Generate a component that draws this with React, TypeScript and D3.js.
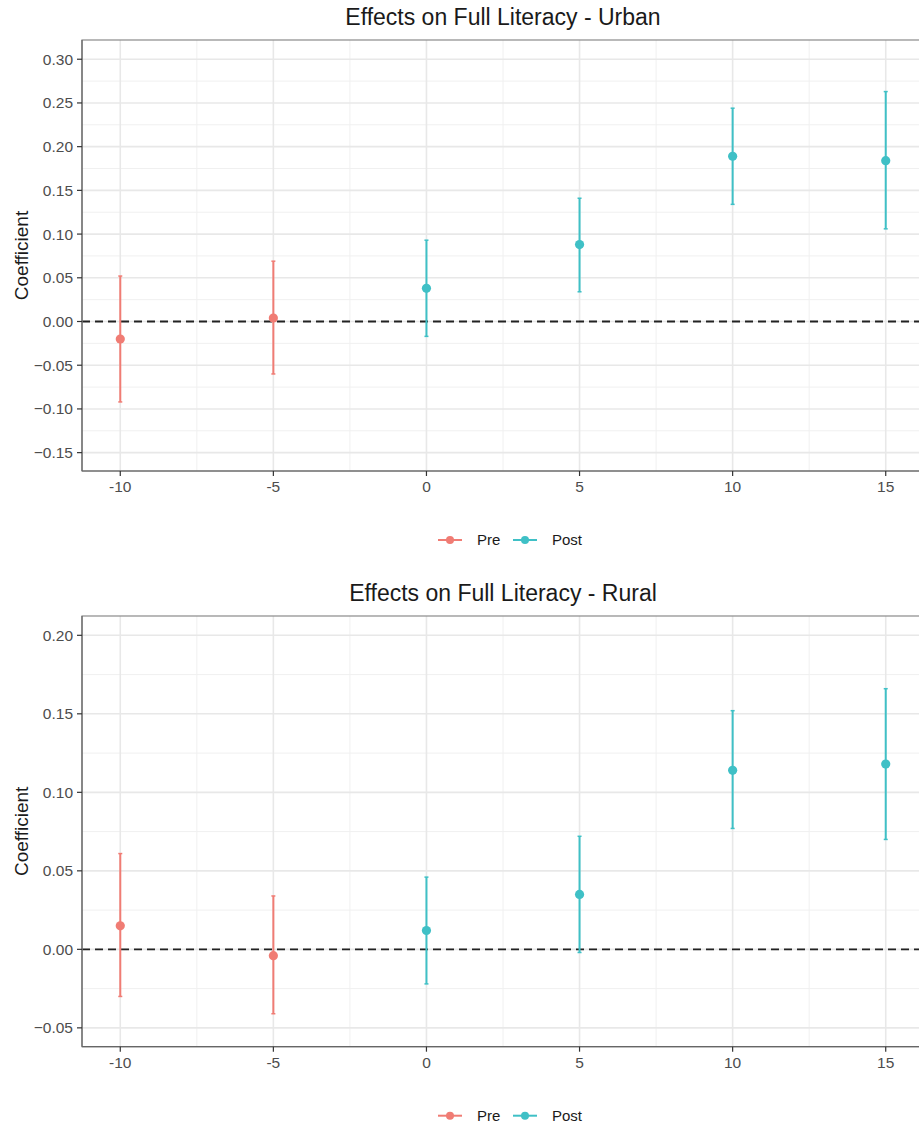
import React from "react";
import * as d3 from "d3";

// Event-study coefficients with confidence intervals, by period relative to the reform
const periods = [-10, -5, 0, 5, 10, 15];
const phase = ["Pre", "Pre", "Post", "Post", "Post", "Post"];

const urbanEstimate = [-0.020, 0.004, 0.038, 0.088, 0.189, 0.184];
const urbanLower = [-0.092, -0.060, -0.017, 0.034, 0.134, 0.106];
const urbanUpper = [0.052, 0.069, 0.093, 0.141, 0.244, 0.263];

const ruralEstimate = [0.015, -0.004, 0.012, 0.035, 0.114, 0.118];
const ruralLower = [-0.030, -0.041, -0.022, -0.002, 0.077, 0.070];
const ruralUpper = [0.061, 0.034, 0.046, 0.072, 0.152, 0.166];

const xTicks = [-10, -5, 0, 5, 10, 15];
const urbanYTicks = [-0.15, -0.1, -0.05, 0, 0.05, 0.1, 0.15, 0.2, 0.25, 0.3];
const ruralYTicks = [-0.05, 0, 0.05, 0.1, 0.15, 0.2];

const phaseNames = ["Pre", "Post"];
const phaseColors = ["#F07C74", "#3FC0C6"];

const FONT = "'Liberation Sans', Arial, Helvetica, sans-serif";
const WIDTH = 919;
const HEIGHT = 1126;

type PanelProps = {
  title: string;
  estimate: number[];
  lower: number[];
  upper: number[];
  yTicks: number[];
  yDomain: [number, number];
  top: number;
  bottom: number;
};

const color = d3.scaleOrdinal<string, string>().domain(phaseNames).range(phaseColors);

function Panel({ title, estimate, lower, upper, yTicks, yDomain, top, bottom }: PanelProps) {
  const left = 82;
  const right = 924;
  const x = d3.scaleLinear().domain([-11.25, 16.25]).range([left, right]);
  const y = d3.scaleLinear().domain(yDomain).range([bottom, top]);

  const step = yTicks[1] - yTicks[0];
  const yMinor = [yTicks[0] - step / 2, ...yTicks.map((t) => t + step / 2)].filter(
    (v) => v > yDomain[0] && v < yDomain[1]
  );
  const xStep = xTicks[1] - xTicks[0];
  const xMinor = [xTicks[0] - xStep / 2, ...xTicks.map((t) => t + xStep / 2)].filter(
    (v) => x(v) > left && x(v) < right
  );

  const fmt = d3.format(".2f");
  const centerX = (left + right) / 2;
  const legendY = bottom + 69;

  return (
    <g>
      <text
        x={centerX}
        y={top - 15}
        textAnchor="middle"
        fontSize={23}
        fill="#1a1a1a"
        fontFamily={FONT}
      >
        {title}
      </text>

      {/* grid */}
      {yMinor.map((v) => (
        <line key={"ym" + v} x1={left} x2={right} y1={y(v)} y2={y(v)} stroke="#f0f0f0" strokeWidth={1} />
      ))}
      {xMinor.map((v) => (
        <line key={"xm" + v} y1={top} y2={bottom} x1={x(v)} x2={x(v)} stroke="#f0f0f0" strokeWidth={1} />
      ))}
      {yTicks.map((v) => (
        <line key={"y" + v} x1={left} x2={right} y1={y(v)} y2={y(v)} stroke="#e8e8e8" strokeWidth={1.6} />
      ))}
      {xTicks.map((v) => (
        <line key={"x" + v} y1={top} y2={bottom} x1={x(v)} x2={x(v)} stroke="#e8e8e8" strokeWidth={1.6} />
      ))}

      {/* zero reference */}
      <line
        x1={left}
        x2={right}
        y1={y(0)}
        y2={y(0)}
        stroke="#222"
        strokeWidth={1.8}
        strokeDasharray="8,5"
      />

      {/* confidence intervals and point estimates */}
      {periods.map((p, i) => {
        const c = color(phase[i]);
        const px = x(p);
        return (
          <g key={"e" + p}>
            <line x1={px} x2={px} y1={y(lower[i])} y2={y(upper[i])} stroke={c} strokeWidth={2} />
            <line x1={px - 2} x2={px + 2} y1={y(lower[i])} y2={y(lower[i])} stroke={c} strokeWidth={1.5} />
            <line x1={px - 2} x2={px + 2} y1={y(upper[i])} y2={y(upper[i])} stroke={c} strokeWidth={1.5} />
            <circle cx={px} cy={y(estimate[i])} r={4.6} fill={c} />
          </g>
        );
      })}

      {/* panel border */}
      <rect x={left} y={top} width={right - left} height={bottom - top} fill="none" stroke="#8a8a8a" strokeWidth={1.2} />
      <line x1={left} x2={left} y1={top} y2={bottom} stroke="#666" strokeWidth={1.2} />
      <line x1={left} x2={right} y1={bottom} y2={bottom} stroke="#666" strokeWidth={1.2} />

      {/* y axis */}
      {yTicks.map((v) => (
        <g key={"yt" + v}>
          <line x1={left - 5} x2={left} y1={y(v)} y2={y(v)} stroke="#333" strokeWidth={1.2} />
          <text
            x={left - 9}
            y={y(v)}
            dy="0.35em"
            textAnchor="end"
            fontSize={15.5}
            fill="#4d4d4d"
            fontFamily={FONT}
          >
            {fmt(v)}
          </text>
        </g>
      ))}
      <text
        transform={`translate(28, ${(top + bottom) / 2}) rotate(-90)`}
        textAnchor="middle"
        fontSize={19}
        fill="#1a1a1a"
        fontFamily={FONT}
      >
        Coefficient
      </text>

      {/* x axis */}
      {xTicks.map((v) => (
        <g key={"xt" + v}>
          <line x1={x(v)} x2={x(v)} y1={bottom} y2={bottom + 5} stroke="#333" strokeWidth={1.2} />
          <text
            x={x(v)}
            y={bottom + 21}
            textAnchor="middle"
            fontSize={15.5}
            fill="#4d4d4d"
            fontFamily={FONT}
          >
            {v}
          </text>
        </g>
      ))}

      {/* legend */}
      {phaseNames.map((name, i) => {
        const kx = 438 + i * 75;
        return (
          <g key={"lg" + name}>
            <line x1={kx} x2={kx + 24} y1={legendY} y2={legendY} stroke={color(name)} strokeWidth={2} />
            <circle cx={kx + 12} cy={legendY} r={4} fill={color(name)} />
            <text x={kx + 39} y={legendY} dy="0.35em" fontSize={15} fill="#1a1a1a" fontFamily={FONT}>
              {name}
            </text>
          </g>
        );
      })}
    </g>
  );
}

export default function App() {
  return (
    <svg
      width={WIDTH}
      height={HEIGHT}
      style={{ position: "absolute", left: 0, top: 0, background: "#fff" }}
    >
      <rect width={WIDTH} height={HEIGHT} fill="#fff" />
      <Panel
        title="Effects on Full Literacy - Urban"
        estimate={urbanEstimate}
        lower={urbanLower}
        upper={urbanUpper}
        yTicks={urbanYTicks}
        yDomain={[-0.171, 0.322]}
        top={40}
        bottom={471}
      />
      <Panel
        title="Effects on Full Literacy - Rural"
        estimate={ruralEstimate}
        lower={ruralLower}
        upper={ruralUpper}
        yTicks={ruralYTicks}
        yDomain={[-0.062, 0.2123]}
        top={616}
        bottom={1046.7}
      />
    </svg>
  );
}
